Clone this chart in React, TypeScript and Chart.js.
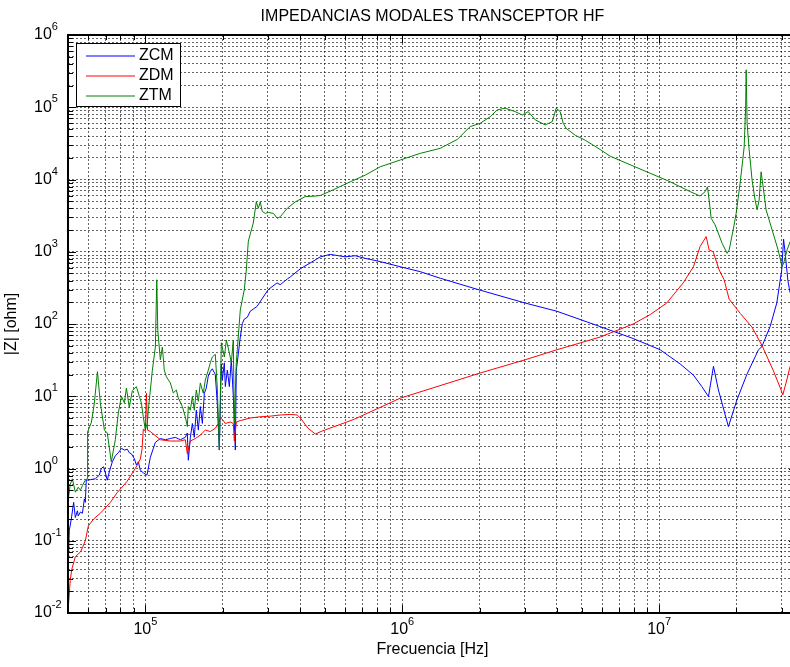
import { useEffect, useRef } from "react";
import { Chart, registerables } from "chart.js";

Chart.register(...registerables);

const FONT = '"Liberation Sans", Arial, Helvetica, sans-serif';

const TITLE = "IMPEDANCIAS MODALES TRANSCEPTOR HF";
const X_LABEL = "Frecuencia [Hz]";
const Y_LABEL = "|Z| [ohm]";

// Axis limits (Hz, ohm)
const X_MIN = 5e4;
const X_MAX = 3.44e7;
const Y_MIN = 1e-2;
const Y_MAX = 1e6;

// Decade tick labels, written as 10^exponent
const X_DECADES = [1e5, 1e6, 1e7];
const X_EXPONENTS = ["5", "6", "7"];
const Y_DECADES = [1e-2, 1e-1, 1e0, 1e1, 1e2, 1e3, 1e4, 1e5, 1e6];
const Y_EXPONENTS = ["-2", "-1", "0", "1", "2", "3", "4", "5", "6"];
const MINOR_MULTIPLIERS = [2, 3, 4, 5, 6, 7, 8, 9];

// Common-mode impedance
const freqZCM = [
  5.0e4, 5.06e4, 5.15e4, 5.26e4, 5.34e4, 5.44e4, 5.48e4, 5.59e4, 5.69e4, 5.79e4,
  5.84e4, 5.89e4, 6.11e4, 6.39e4, 6.62e4, 6.74e4, 6.87e4, 6.99e4, 7.11e4, 7.24e4,
  7.44e4, 7.64e4, 7.85e4, 8.07e4, 8.29e4, 8.51e4, 8.66e4, 8.82e4, 9.06e4, 9.23e4,
  9.39e4, 9.56e4, 9.82e4, 1.015e5, 1.046e5, 1.094e5, 1.144e5, 1.196e5, 1.251e5, 1.308e5,
  1.368e5, 1.431e5, 1.457e5, 1.47e5, 1.497e5, 1.524e5, 1.551e5, 1.579e5, 1.608e5, 1.637e5,
  1.667e5, 1.697e5, 1.727e5, 1.758e5, 1.79e5, 1.823e5, 1.872e5, 1.906e5, 1.941e5, 1.976e5,
  1.994e5, 2.03e5, 2.048e5, 2.085e5, 2.123e5, 2.161e5, 2.2e5, 2.24e5, 2.26e5, 2.3e5,
  2.342e5, 2.385e5, 2.428e5, 2.494e5, 2.56e5, 2.72e5, 3.01e5, 3.256e5, 3.35e5, 3.57e5,
  3.67e5, 4.01e5, 4.385e5, 4.8e5, 5.245e5, 6.0e5, 6.56e5, 7.18e5, 8.21e5, 9.82e5,
  1.175e6, 1.406e6, 1.97e6, 3.01e6, 4.0e6, 5.895e6, 7.92e6, 1.009e7, 1.207e7, 1.36e7,
  1.466e7, 1.556e7, 1.627e7, 1.701e7, 1.86e7, 2.006e7, 2.194e7, 2.435e7, 2.51e7, 2.703e7,
  2.87e7, 3.0e7, 3.05e7, 3.1e7, 3.17e7, 3.234e7,
];
const zCM = [
  0.037, 0.14, 0.2, 0.34, 0.21, 0.26, 0.22, 0.25, 0.24, 0.38,
  0.34, 0.69, 0.7, 0.72, 0.81, 1.0, 1.06, 0.87, 0.69, 0.9,
  1.24, 1.5, 1.65, 1.9, 1.8, 1.85, 1.65, 1.6, 1.37, 1.12,
  1.24, 0.95, 0.87, 0.81, 1.43, 2.3, 2.6, 2.5, 2.6, 2.7,
  2.5, 2.7, 3.1, 1.3, 2.7, 4.2, 2.7, 6.4, 3.4, 7.2,
  4.2, 11, 13, 19, 22, 24, 20, 8, 1.8, 28,
  16.8, 29, 13.6, 23, 13.6, 32, 10, 1.8, 23, 38,
  66, 101, 117, 124, 150, 175, 300, 370, 350, 420,
  450, 580, 700, 850, 920, 850, 880, 810, 730, 620,
  530, 430, 300, 195, 150, 92, 63, 44, 28, 19.6,
  13.6, 9.9, 26, 12.2, 3.8, 8.8, 20, 44, 48.5, 92,
  195, 560, 1500, 900, 400, 270,
];

// Differential-mode impedance
const freqZDM = [
  5.0e4, 5.1e4, 5.17e4, 5.34e4, 5.59e4, 5.69e4, 5.84e4, 6.0e4, 6.29e4, 6.68e4,
  7.31e4, 7.76e4, 8.48e4, 9.14e4, 9.56e4, 9.71e4, 9.82e4, 1.0e5, 1.01e5, 1.02e5,
  1.046e5, 1.144e5, 1.251e5, 1.368e5, 1.431e5, 1.457e5, 1.497e5, 1.566e5, 1.637e5, 1.712e5,
  1.79e5, 1.872e5, 1.923e5, 1.958e5, 1.994e5, 2.048e5, 2.142e5, 2.2e5, 2.22e5, 2.26e5,
  2.342e5, 2.56e5, 2.8e5, 3.06e5, 3.35e5, 3.67e5, 3.9e5, 4.01e5, 4.3e5, 4.59e5,
  4.88e5, 6.5e5, 9.82e5, 2.012e6, 3.01e6, 4.0e6, 5.895e6, 7.92e6, 9.23e6, 1.07e7,
  1.24e7, 1.36e7, 1.443e7, 1.524e7, 1.565e7, 1.623e7, 1.712e7, 1.79e7, 1.873e7, 2.07e7,
  2.3e7, 2.516e7, 2.777e7, 2.983e7, 3.028e7, 3.14e7, 3.234e7,
];
const zDM = [
  0.0105, 0.028, 0.04, 0.06, 0.07, 0.08, 0.1, 0.16, 0.2, 0.24,
  0.34, 0.46, 0.66, 1.0, 1.35, 1.85, 3.5, 3.3, 11, 3.4,
  3.25, 2.5, 2.4, 2.4, 2.5, 1.6, 2.4, 2.6, 2.9, 3.4,
  3.25, 3.6, 4.2, 5.0, 4.8, 4.2, 4.4, 4.2, 2.4, 4.4,
  4.6, 5.0, 5.2, 5.3, 5.5, 5.6, 5.5, 5.0, 3.6, 3.0,
  3.3, 4.8, 9.4, 21, 32, 44, 66, 100, 135, 195,
  370, 620, 1180, 1620, 1060, 1000, 560, 410, 220, 140,
  90, 50, 23, 12.2, 10.4, 16.8, 26,
];

// Total-mode impedance
const freqZTM = [
  5.0e4, 5.1e4, 5.2e4, 5.34e4, 5.48e4, 5.59e4, 5.69e4, 5.84e4, 5.93e4, 5.96e4,
  6.17e4, 6.33e4, 6.51e4, 6.68e4, 6.93e4, 7.11e4, 7.37e4, 7.64e4, 7.85e4, 8.07e4,
  8.29e4, 8.44e4, 8.66e4, 8.9e4, 9.23e4, 9.48e4, 9.65e4, 9.82e4, 1.0e5, 1.018e5,
  1.027e5, 1.065e5, 1.094e5, 1.108e5, 1.118e5, 1.144e5, 1.165e5, 1.185e5, 1.207e5, 1.251e5,
  1.285e5, 1.32e5, 1.344e5, 1.393e5, 1.431e5, 1.457e5, 1.47e5, 1.497e5, 1.524e5, 1.551e5,
  1.579e5, 1.608e5, 1.637e5, 1.681e5, 1.712e5, 1.758e5, 1.79e5, 1.823e5, 1.872e5, 1.906e5,
  1.941e5, 1.976e5, 2.03e5, 2.067e5, 2.123e5, 2.161e5, 2.2e5, 2.22e5, 2.26e5, 2.342e5,
  2.428e5, 2.472e5, 2.517e5, 2.632e5, 2.703e5, 2.752e5, 2.802e5, 2.852e5, 2.93e5, 3.01e5,
  3.15e5, 3.264e5, 3.353e5, 3.57e5, 3.834e5, 4.195e5, 4.587e5, 4.797e5, 5.39e5, 6.28e5,
  7.18e5, 8.21e5, 9.82e5, 1.175e6, 1.406e6, 1.64e6, 1.839e6, 2.012e6, 2.2e6, 2.343e6,
  2.517e6, 2.753e6, 2.93e6, 3.093e6, 3.293e6, 3.601e6, 3.834e6, 3.974e6, 4.119e6, 4.232e6,
  4.347e6, 4.713e6, 5.155e6, 5.895e6, 6.447e6, 7.713e6, 9.226e6, 1.104e7, 1.32e7, 1.443e7,
  1.51e7, 1.542e7, 1.565e7, 1.594e7, 1.652e7, 1.758e7, 1.839e7, 1.873e7, 1.941e7, 1.994e7,
  2.067e7, 2.142e7, 2.171e7, 2.181e7, 2.2e7, 2.24e7, 2.3e7, 2.363e7, 2.406e7, 2.45e7,
  2.494e7, 2.54e7, 2.608e7, 2.753e7, 2.904e7, 3.01e7, 3.065e7, 3.148e7, 3.234e7,
];
const zTM = [
  0.35, 0.6, 0.72, 0.47, 0.55, 0.5, 0.58, 0.69, 0.72, 3.2,
  4.4, 8, 21.9, 8.1, 3.4, 3.1, 1.24, 2.5, 5.9, 9.9,
  8.1, 13, 7, 12, 13.6, 9.9, 8.1, 5.2, 3.4, 4.3,
  6.4, 23, 48, 410, 82, 32, 48, 23, 18.6, 15.3,
  11.1, 12.2, 9.5, 7.2, 5.2, 3.8, 7.2, 6.4, 9.9, 6.4,
  12.2, 8.5, 15.3, 11, 16.8, 23, 29, 35, 38, 13,
  1.8, 55, 35, 60, 40, 29, 60, 4.3, 29, 156,
  300, 560, 1400, 2500, 4900, 4000, 4900, 3600, 3400, 3500,
  3400, 2900, 3060, 4000, 4900, 5800, 5900, 6000, 7200, 9300,
  11500, 15000, 18600, 23000, 27000, 36000, 54000, 60000, 74000, 92000,
  97000, 87000, 78000, 87000, 67000, 57000, 63000, 97000, 87000, 60000,
  51000, 41000, 35000, 26000, 21000, 16000, 12200, 9300, 6800, 5900,
  6800, 7900, 5200, 2900, 2350, 1310, 950, 1060, 2000, 3400,
  9000, 28000, 100000, 330000, 60000, 26000, 9800, 5200, 3800, 5200,
  12800, 7900, 3800, 2000, 1060, 620, 730, 1060, 1380,
];

const SERIES = [
  { label: "ZCM", color: "#0000ff", freq: freqZCM, z: zCM, order: 3 },
  { label: "ZDM", color: "#ff0000", freq: freqZDM, z: zDM, order: 2 },
  { label: "ZTM", color: "#008000", freq: freqZTM, z: zTM, order: 1 },
];

// Grid values for a log axis: every 1..9 multiple of each decade inside the range
function logGrid(min: number, max: number) {
  const out: { value: number; major: boolean }[] = [];
  const e0 = Math.floor(Math.log10(min));
  const e1 = Math.ceil(Math.log10(max));
  for (let e = e0; e <= e1; e++) {
    const d = Math.pow(10, e);
    for (const m of [1, ...MINOR_MULTIPLIERS]) {
      const v = d * m;
      if (v >= min * 0.9999 && v <= max * 1.0001) out.push({ value: v, major: m === 1 });
    }
  }
  return out;
}

const X_GRID = logGrid(X_MIN, X_MAX);
const Y_GRID = logGrid(Y_MIN, Y_MAX);

function drawPower(
  ctx: CanvasRenderingContext2D,
  exp: string,
  x: number,
  y: number,
  align: "left" | "center"
) {
  ctx.font = `16px ${FONT}`;
  const wBase = ctx.measureText("10").width;
  ctx.font = `11px ${FONT}`;
  const wExp = ctx.measureText(exp).width;
  const start = align === "center" ? x - (wBase + wExp) / 2 : x;
  ctx.textAlign = "left";
  ctx.textBaseline = "middle";
  ctx.font = `16px ${FONT}`;
  ctx.fillText("10", start, y);
  ctx.font = `11px ${FONT}`;
  ctx.fillText(exp, start + wBase, y - 8);
}

const framePlugin = {
  id: "matlabFrame",
  afterDraw(chart: any) {
    const { ctx, chartArea, scales } = chart;
    const { left, top, right, bottom } = chartArea;
    const xs = scales.x;
    const ys = scales.y;
    ctx.save();

    // inward tick marks
    ctx.strokeStyle = "#000";
    ctx.lineWidth = 1;
    ctx.setLineDash([]);
    ctx.beginPath();
    for (const t of X_GRID) {
      const px = Math.round(xs.getPixelForValue(t.value)) + 0.5;
      const len = t.major ? 8 : 5;
      ctx.moveTo(px, bottom);
      ctx.lineTo(px, bottom - len);
      ctx.moveTo(px, top);
      ctx.lineTo(px, top + len);
    }
    for (const t of Y_GRID) {
      const py = Math.round(ys.getPixelForValue(t.value)) + 0.5;
      const len = t.major ? 8 : 5;
      ctx.moveTo(left, py);
      ctx.lineTo(left + len, py);
      ctx.moveTo(right, py);
      ctx.lineTo(right - len, py);
    }
    ctx.stroke();

    // axes box
    ctx.lineWidth = 2;
    ctx.beginPath();
    ctx.moveTo(right, top);
    ctx.lineTo(left, top);
    ctx.lineTo(left, bottom);
    ctx.lineTo(right, bottom);
    ctx.lineTo(right, top);
    ctx.stroke();

    // decade labels
    ctx.fillStyle = "#000";
    X_DECADES.forEach((v, i) => {
      drawPower(ctx, X_EXPONENTS[i], xs.getPixelForValue(v), bottom + 17, "center");
    });
    Y_DECADES.forEach((v, i) => {
      drawPower(ctx, Y_EXPONENTS[i], 34, ys.getPixelForValue(v), "left");
    });

    // legend
    const lx = left + 8;
    const ly = top + 8;
    ctx.fillStyle = "#fff";
    ctx.fillRect(lx, ly, 104, 63);
    ctx.strokeStyle = "#000";
    ctx.lineWidth = 1;
    ctx.strokeRect(lx + 0.5, ly + 0.5, 104, 63);
    ctx.font = `16px ${FONT}`;
    ctx.textAlign = "left";
    ctx.textBaseline = "middle";
    chart.data.datasets.forEach((ds: any, i: number) => {
      const yy = ly + 13 + i * 20;
      ctx.strokeStyle = ds.borderColor;
      ctx.lineWidth = 1;
      ctx.beginPath();
      ctx.moveTo(lx + 10, yy);
      ctx.lineTo(lx + 59, yy);
      ctx.stroke();
      ctx.fillStyle = "#000";
      ctx.fillText(ds.label, lx + 63, yy);
    });

    ctx.restore();
  },
};

export default function App() {
  const canvasRef = useRef<HTMLCanvasElement | null>(null);

  useEffect(() => {
    const canvas = canvasRef.current;
    if (!canvas) return;

    const gridOpts = {
      color: "rgba(0,0,0,0.6)",
      lineWidth: 1,
      drawTicks: false,
    };

    const chart = new Chart(canvas, {
      type: "line",
      data: {
        datasets: SERIES.map((s) => ({
          label: s.label,
          data: s.freq.map((f, i) => ({ x: f, y: s.z[i] })),
          borderColor: s.color,
          backgroundColor: s.color,
          borderWidth: 1,
          pointRadius: 0,
          tension: 0,
          fill: false,
          order: s.order,
        })),
      },
      options: {
        responsive: false,
        animation: false,
        devicePixelRatio: 1,
        layout: { padding: 0 },
        events: [],
        plugins: {
          legend: { display: false },
          tooltip: { enabled: false },
          title: {
            display: true,
            text: TITLE,
            fullSize: false,
            color: "#000",
            font: { family: FONT, size: 16, weight: "normal" },
            padding: { top: 7, bottom: 8.8 },
          },
        },
        scales: {
          x: {
            type: "logarithmic",
            position: "bottom",
            min: X_MIN,
            max: X_MAX,
            ticks: { display: false },
            grid: gridOpts,
            border: { display: false, dash: [2, 2] },
            title: {
              display: true,
              text: X_LABEL,
              color: "#000",
              font: { family: FONT, size: 16 },
              padding: { top: 0, bottom: 7.4 },
            },
            afterBuildTicks: (scale: any) => {
              scale.ticks = X_GRID.map((t) => ({ value: t.value, major: t.major }));
            },
            afterFit: (scale: any) => {
              scale.height = 54;
            },
          },
          y: {
            type: "logarithmic",
            position: "left",
            min: Y_MIN,
            max: Y_MAX,
            ticks: { display: false },
            grid: gridOpts,
            border: { display: false, dash: [2, 2] },
            title: {
              display: true,
              text: Y_LABEL,
              color: "#000",
              font: { family: FONT, size: 16 },
              padding: { top: 2.4, bottom: 0 },
            },
            afterBuildTicks: (scale: any) => {
              scale.ticks = Y_GRID.map((t) => ({ value: t.value, major: t.major }));
            },
            afterFit: (scale: any) => {
              scale.width = 68;
            },
          },
        },
      },
      plugins: [framePlugin],
    } as any);

    return () => chart.destroy();
  }, []);

  return (
    <div
      style={{
        position: "fixed",
        left: 0,
        top: 0,
        width: 790,
        height: 667,
        overflow: "hidden",
        background: "#fff",
      }}
    >
      <canvas ref={canvasRef} width={797} height={667} style={{ display: "block" }} />
    </div>
  );
}
